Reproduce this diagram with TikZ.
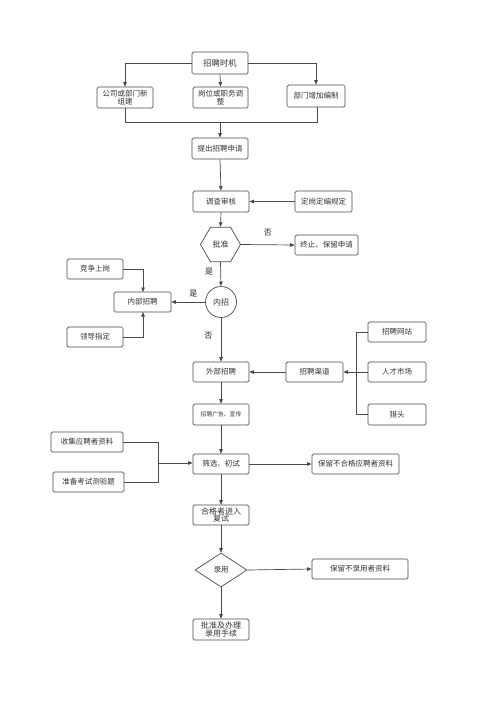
\documentclass[tikz,border=0pt]{standalone}
\usepackage{fontspec}
\setmainfont{Noto Sans CJK SC}
\usetikzlibrary{shapes.geometric,arrows.meta}
\definecolor{ln}{HTML}{4A4A4A}
\tikzset{
  box/.style={draw=ln,line width=0.7pt,rounded corners=1.5pt,minimum height=21pt,inner sep=1pt,font=\fontsize{7.5}{8.5}\selectfont,align=center,text=black!80},
  conn/.style={draw=ln,line width=0.7pt},
  arr/.style={conn,-{Triangle[length=4.5pt,width=3.5pt]}},
  lbl/.style={font=\fontsize{8}{9}\selectfont,text=black!85}
}
\begin{document}
\begin{tikzpicture}[x=1pt,y=-1pt]
\useasboundingbox (0,0) rectangle (496,702);
\fill[white] (0,0) rectangle (496,702);
% top
\node[box,minimum width=56pt,minimum height=22pt,font=\fontsize{8.3}{9}\selectfont] (timing) at (220,63) {招聘时机};
\node[box,minimum width=56pt,text width=54pt] (new) at (125,97.5) {公司或部门新\\组建};
\node[box,minimum width=55pt,text width=53pt] (adj) at (220.5,97.5) {岗位或职务调\\整};
\node[box,minimum width=58pt,minimum height=22pt] (add) at (316,96) {部门增加编制};
\node[box,minimum width=56pt] (apply) at (220,148.5) {提出招聘申请};
\coordinate (mergeL) at (125,122);
\coordinate (mergeR) at (317,122);
\coordinate (mergeC) at (220,122);
\draw[arr] (timing.west) -| (new.north);
\draw[arr] (timing.east) -| (add.north);
\draw[arr] (timing.south) -- (adj.north);
\draw[conn] (new.south) -- (mergeL) -- (mergeR) -- (add.south -| mergeR);
\draw[arr] (mergeC) -- (apply.north);
% review
\node[box,minimum width=56pt] (review) at (221,201.5) {调查审核};
\node[box,minimum width=57pt] (rule) at (323.5,201.5) {定岗定编规定};
\draw[arr] (apply.south) -- (review.north);
\draw[arr] (rule.west) -- (review.east);
\node[draw=ln,line width=0.7pt,regular polygon,regular polygon sides=6,minimum width=40pt,inner sep=0pt,xscale=1,font=\fontsize{8}{9}\selectfont,text=black!80] (appr) at (220.5,244.5) {批准};
\node[box,minimum width=63pt,minimum height=20pt] (stop) at (326.5,245) {终止、保留申请};
\draw[arr] (review.south) -- (appr.north);
\draw[arr] (appr.east) -- node[lbl,above=5pt,pos=0.5] {否} (stop.west);
\node[draw=ln,line width=0.7pt,circle,minimum size=31pt,inner sep=0pt,font=\fontsize{8}{9}\selectfont,text=black!80] (inner) at (221,302) {内招};
\draw[arr] (appr.south) -- node[lbl,left=4pt,pos=0.4] {是} (inner.north);
\node[box,minimum width=57pt,minimum height=20pt] (inrec) at (142.5,302) {内部招聘};
\draw[arr] (inner.west) -- node[lbl,above=1pt,pos=0.35] {是} (inrec.east);
\node[box,minimum width=56pt,minimum height=20pt] (comp) at (95,269) {竞争上岗};
\node[box,minimum width=56pt,minimum height=20pt] (lead) at (95,337) {领导指定};
\draw[arr] (comp.east) -| (143,292);
\draw[arr] (lead.east) -| (143,312);
% external
\node[box,minimum width=56pt,minimum height=20pt] (ext) at (221,372) {外部招聘};
\draw[arr] (inner.south) -- node[lbl,left=5pt,pos=0.4] {否} (ext.north);
\node[box,minimum width=57pt,minimum height=20pt] (chan) at (314.5,372) {招聘渠道};
\node[box,minimum width=58pt,minimum height=20pt] (web) at (397,332) {招聘网站};
\node[box,minimum width=58pt,minimum height=20pt] (market) at (397,372) {人才市场};
\node[box,minimum width=58pt,minimum height=21pt] (hunt) at (397,414.5) {猎头};
\coordinate (bt) at (356,332);
\coordinate (bb) at (356,414.5);
\draw[conn] (web.west) -- (bt) -- (bb) -- (hunt.west);
\draw[arr] (market.west) -- (chan.east);
\draw[arr] (chan.west) -- (ext.east);
\node[box,minimum width=56pt,font=\fontsize{5.8}{7}\selectfont] (ad) at (221,414.5) {招聘广告、宣传};
\draw[arr] (ext.south) -- (ad.north);
% screening
\node[box,minimum width=56pt,minimum height=20pt] (screen) at (221,464) {筛选、初试};
\draw[arr] (ad.south) -- (screen.north);
\node[box,minimum width=72pt,minimum height=20pt] (collect) at (87,442) {收集应聘者资料};
\node[box,minimum width=71pt,minimum height=20pt] (prep) at (88.5,482) {准备考试测验题};
\coordinate (join) at (158,463);
\draw[conn] (collect.east) -| (join);
\draw[conn] (prep.east) -| (join);
\draw[arr] (join) -- (join -| screen.west);
\node[box,minimum width=87pt,minimum height=20pt] (keep1) at (355.5,464) {保留不合格应聘者资料};
\draw[arr] (screen.east) -- (keep1.west);
\node[box,minimum width=56pt,minimum height=20pt,text width=54pt,font=\fontsize{8}{7.5}\selectfont] (retest) at (221,515) {合格者进入\\复试};
\draw[arr] (screen.south) -- (retest.north);
% hire
\node[draw=ln,line width=0.7pt,diamond,minimum width=52pt,minimum height=34pt,inner sep=0pt,font=\fontsize{7.5}{9}\selectfont,text=black!80] (hire) at (221,570) {录用};
\draw[arr] (retest.south) -- (hire.north);
\node[box,minimum width=96pt,minimum height=20pt] (keep2) at (360,569) {保留不录用者资料};
\draw[arr] (hire.east) -- (keep2.west);
\node[box,minimum width=56pt,minimum height=21pt,text width=54pt,font=\fontsize{8}{8}\selectfont] (final) at (221,629.5) {批准及办理\\录用手续};
\draw[arr] (hire.south) -- (final.north);
\end{tikzpicture}
\end{document}
